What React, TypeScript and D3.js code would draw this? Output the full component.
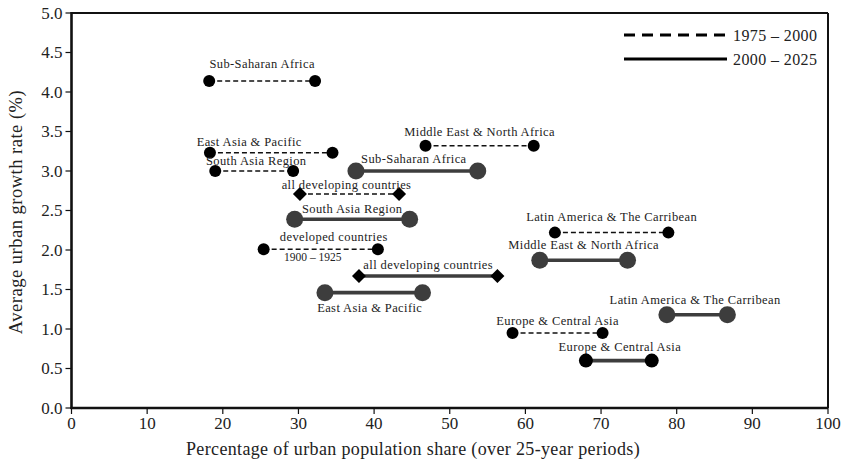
import React from "react";
import * as d3 from "d3";

// Urban share (start, end) and growth rate per region for each 25-year period
type Seg = {
  name: string;
  x0: number;
  x1: number;
  y: number;
  period: "1975-2000" | "2000-2025";
  shape: "circle" | "diamond";
  big: boolean;
  sub?: string;
  dx?: number; // label shift from segment midpoint, px
  dy: number; // label baseline offset from the segment, px
};

const periods = ["1975 – 2000", "2000 – 2025"];

const earlySegments: Seg[] = [
  { name: "Sub-Saharan Africa", x0: 18.2, x1: 32.2, y: 4.14, period: "1975-2000", shape: "circle", big: false, dy: -13 },
  { name: "East Asia & Pacific", x0: 18.3, x1: 34.5, y: 3.23, period: "1975-2000", shape: "circle", big: false, dx: -22, dy: -7 },
  { name: "South Asia Region", x0: 19.0, x1: 29.3, y: 3.0, period: "1975-2000", shape: "circle", big: false, dx: 2, dy: -6 },
  { name: "Middle East & North Africa", x0: 46.8, x1: 61.1, y: 3.32, period: "1975-2000", shape: "circle", big: false, dy: -10 },
  { name: "all developing countries", x0: 30.2, x1: 43.3, y: 2.71, period: "1975-2000", shape: "diamond", big: false, dx: -3, dy: -5 },
  { name: "developed countries", x0: 25.4, x1: 40.5, y: 2.01, period: "1975-2000", shape: "circle", big: false, sub: "1900 – 1925", dx: 13, dy: -8 },
  { name: "Latin America & The Carribean", x0: 63.9, x1: 78.9, y: 2.22, period: "1975-2000", shape: "circle", big: false, dy: -12 },
  { name: "Europe & Central Asia", x0: 58.3, x1: 70.2, y: 0.95, period: "1975-2000", shape: "circle", big: false, dy: -8 },
];

const lateSegments: Seg[] = [
  { name: "Sub-Saharan Africa", x0: 37.6, x1: 53.7, y: 3.0, period: "2000-2025", shape: "circle", big: true, dx: -3, dy: -8 },
  { name: "South Asia Region", x0: 29.5, x1: 44.7, y: 2.39, period: "2000-2025", shape: "circle", big: true, dy: -6 },
  { name: "all developing countries", x0: 38.0, x1: 56.3, y: 1.67, period: "2000-2025", shape: "diamond", big: false, dy: -7 },
  { name: "East Asia & Pacific", x0: 33.5, x1: 46.4, y: 1.46, period: "2000-2025", shape: "circle", big: true, dx: -4, dy: 19 },
  { name: "Middle East & North Africa", x0: 61.9, x1: 73.5, y: 1.87, period: "2000-2025", shape: "circle", big: true, dy: -11 },
  { name: "Latin America & The Carribean", x0: 78.7, x1: 86.7, y: 1.18, period: "2000-2025", shape: "circle", big: true, dx: -2, dy: -11 },
  { name: "Europe & Central Asia", x0: 68.0, x1: 76.7, y: 0.6, period: "2000-2025", shape: "circle", big: false, dx: 1, dy: -10 },
];

const xTicks = [0, 10, 20, 30, 40, 50, 60, 70, 80, 90, 100];
const yTicks = [0, 0.5, 1, 1.5, 2, 2.5, 3, 3.5, 4, 4.5, 5];

const W = 845;
const H = 461;
const M = { left: 71.5, right: 17, top: 13, bottom: 53 };
const FONT = "Liberation Serif, Times New Roman, Times, serif";
const INK = "#222";

export default function App() {
  const x = d3.scaleLinear().domain([0, 100]).range([M.left, W - M.right]);
  const y = d3.scaleLinear().domain([0, 5]).range([H - M.bottom, M.top]);
  const all = [...earlySegments, ...lateSegments];
  const dPath = d3.line()([[0, -7], [7, 0], [0, 7], [-7, 0]]) + "Z";

  const marker = (s: Seg, cx: number, cy: number, key: string) => {
    if (s.shape === "diamond") {
      return <path key={key} d={dPath} transform={`translate(${cx},${cy})`} fill="#000" />;
    }
    const fill = s.big ? "#3d3d3d" : "#000";
    const r = s.big ? 8.5 : s.period === "2000-2025" ? 7 : 6;
    return <circle key={key} cx={cx} cy={cy} r={r} fill={fill} />;
  };

  return (
    <svg width={W} height={H} style={{ position: "absolute", left: 0, top: 0, background: "#fff" }} fontFamily={FONT}>
      {/* frame */}
      <line x1={x(0)} x2={x(100)} y1={y(5)} y2={y(5)} stroke="#111" strokeWidth={2} />
      <line x1={x(100)} x2={x(100)} y1={y(5)} y2={y(0)} stroke="#111" strokeWidth={2} />
      <line x1={x(0) - 1} x2={x(100)} y1={y(0)} y2={y(0)} stroke="#111" strokeWidth={2.6} />
      <line x1={x(0)} x2={x(0)} y1={y(5) - 1} y2={y(0) + 1} stroke="#111" strokeWidth={2.6} />

      {/* x axis */}
      {xTicks.map((t) => (
        <g key={"x" + t}>
          <line x1={x(t)} x2={x(t)} y1={y(0)} y2={y(0) + 6} stroke="#111" strokeWidth={1.2} />
          <text x={x(t)} y={y(0) + 21} textAnchor="middle" fontSize={17} fill={INK}>
            {t}
          </text>
        </g>
      ))}
      {/* y axis */}
      {yTicks.map((t) => (
        <g key={"y" + t}>
          <line x1={x(0) - 6} x2={x(0)} y1={y(t)} y2={y(t)} stroke="#111" strokeWidth={1.2} />
          <text x={x(0) - 9} y={y(t) + 5.5} textAnchor="end" fontSize={17} fill={INK}>
            {d3.format(".1f")(t)}
          </text>
        </g>
      ))}
      <text x={413} y={455} textAnchor="middle" fontSize={18} letterSpacing={0.35} fill={INK}>
        Percentage of urban population share (over 25-year periods)
      </text>
      <text
        transform={`translate(22,212) rotate(-90)`}
        textAnchor="middle"
        fontSize={18.5}
        letterSpacing={0.5}
        fill={INK}
      >
        Average urban growth rate (%)
      </text>

      {/* segments */}
      {all.map((s, i) => {
        const solid = s.period === "2000-2025";
        return (
          <line
            key={"l" + i}
            x1={x(s.x0)}
            x2={x(s.x1)}
            y1={y(s.y)}
            y2={y(s.y)}
            stroke={solid ? "#3d3d3d" : "#111"}
            strokeWidth={solid ? 3.6 : 1.5}
            strokeDasharray={solid ? undefined : "5,3"}
          />
        );
      })}
      {all.map((s, i) => (
        <g key={"m" + i}>
          {marker(s, x(s.x0), y(s.y), "a")}
          {marker(s, x(s.x1), y(s.y), "b")}
        </g>
      ))}
      {/* labels */}
      {all.map((s, i) => {
        const cx = (x(s.x0) + x(s.x1)) / 2 + (s.dx ?? 0);
        return (
          <g key={"t" + i}>
            <text x={cx} y={y(s.y) + s.dy} textAnchor="middle" fontSize={12.5} fill={INK} letterSpacing={0.4}>
              {s.name}
            </text>
            {s.sub && (
              <text x={cx - 21} y={y(s.y) + 12} textAnchor="middle" fontSize={11.5} fill={INK}>
                {s.sub}
              </text>
            )}
          </g>
        );
      })}

      {/* legend */}
      {periods.map((p, i) => (
        <g key={p} transform={`translate(624,${35 + i * 24})`}>
          <line x1={0} x2={103} y1={0} y2={0} stroke="#000" strokeWidth={3} strokeDasharray={i === 0 ? "11,7" : undefined} />
          <text x={109} y={5.5} fontSize={16} letterSpacing={0.4} fill={INK}>
            {p}
          </text>
        </g>
      ))}
    </svg>
  );
}
